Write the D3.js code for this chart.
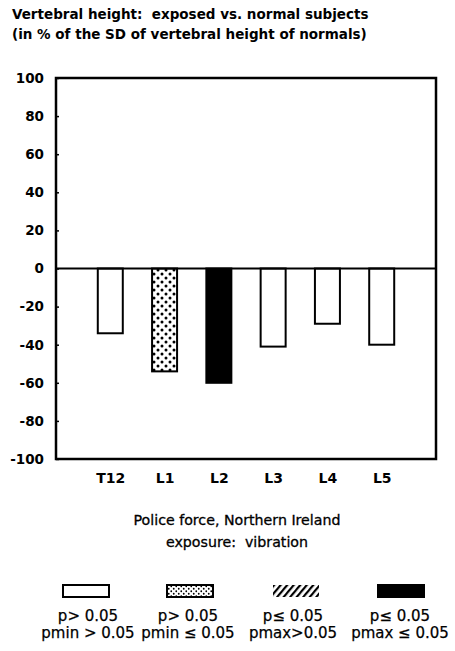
<!DOCTYPE html>
<html>
<head>
<meta charset="utf-8">
<script src="https://cdn.jsdelivr.net/npm/d3@7"></script>
<style>
  html, body { margin: 0; padding: 0; background: #fff; }
  svg { display: block; }
  text { font-family: "DejaVu Sans", Verdana, sans-serif; fill: #000; white-space: pre; }
</style>
</head>
<body>
<svg id="chart" width="455" height="651"></svg>
<script>
// Vertebral height of exposed subjects, in % of the SD of normals
const vertebrae = ["T12", "L1", "L2", "L3", "L4", "L5"];
const heightDiff = [-34, -54, -60, -41, -29, -40];
// significance class of each bar (index into the legend)
const barClass = [0, 1, 3, 0, 0, 0];
const yTicks = [100, 80, 60, 40, 20, 0, -20, -40, -60, -80, -100];

const titleLines = [
  "Vertebral height:  exposed vs. normal subjects",
  "(in % of the SD of vertebral height of normals)"
];
const captionLines = ["Police force, Northern Ireland", "exposure:  vibration"];
const legendLine1 = ["p> 0.05", "p> 0.05", "p\u2264 0.05", "p\u2264 0.05"];
const legendLine2 = ["pmin > 0.05", "pmin \u2264 0.05", "pmax>0.05", "pmax \u2264 0.05"];

const svg = d3.select("#chart");
const plot = { left: 56, right: 436, top: 78, bottom: 459 };

const defs = svg.append("defs");
// stippled fill: staggered dots
function dotPattern(id, size, r) {
  const p = defs.append("pattern").attr("id", id).attr("patternUnits", "userSpaceOnUse")
    .attr("width", size).attr("height", size);
  p.append("rect").attr("width", size).attr("height", size).attr("fill", "#fff");
  p.append("circle").attr("cx", size * 0.25).attr("cy", size * 0.25).attr("r", r).attr("fill", "#000");
  p.append("circle").attr("cx", size * 0.75).attr("cy", size * 0.75).attr("r", r).attr("fill", "#000");
}
dotPattern("dots", 8, 1.5);
dotPattern("dotsSmall", 5, 0.9);
// diagonal hatching
const hatch = defs.append("pattern").attr("id", "hatch").attr("patternUnits", "userSpaceOnUse")
  .attr("width", 5).attr("height", 5).attr("patternTransform", "rotate(40)");
hatch.append("rect").attr("width", 5).attr("height", 5).attr("fill", "#fff");
hatch.append("rect").attr("width", 2.2).attr("height", 5).attr("fill", "#000");

const fills = ["#fff", "url(#dots)", "url(#hatch)", "#000"];
const legendFills = ["#fff", "url(#dotsSmall)", "url(#hatch)", "#000"];

// title
svg.append("g").selectAll("text").data(titleLines).join("text")
  .attr("x", 12).attr("y", (d, i) => 19 + i * 20)
  .attr("font-size", 13.5).attr("font-weight", "bold")
  .text(d => d);

const x = d3.scalePoint().domain(vertebrae).range([plot.left, plot.right]).padding(1);
const y = d3.scaleLinear().domain([-100, 100]).range([plot.bottom, plot.top]);
const barW = 25;

// y axis
const yAxis = svg.append("g").attr("transform", `translate(${plot.left},0)`)
  .call(d3.axisLeft(y).tickValues(yTicks).tickFormat(d => String(d))
    .tickSizeInner(-3).tickSizeOuter(0).tickPadding(12));
yAxis.select(".domain").remove();
yAxis.selectAll(".tick line").attr("stroke", "#000").attr("stroke-width", 1.5);
yAxis.selectAll(".tick text").attr("font-size", 13.5).attr("font-weight", "bold")
  .attr("font-family", "'DejaVu Sans', Verdana, sans-serif").attr("fill", "#000");

// bars
svg.append("g").selectAll("rect").data(vertebrae).join("rect")
  .attr("x", d => x(d) - barW / 2)
  .attr("y", (d, i) => y(Math.max(0, heightDiff[i])))
  .attr("width", barW)
  .attr("height", (d, i) => Math.abs(y(heightDiff[i]) - y(0)))
  .attr("fill", (d, i) => fills[barClass[i]])
  .attr("stroke", "#000").attr("stroke-width", 2);

// zero line
svg.append("line").attr("x1", plot.left).attr("x2", plot.right)
  .attr("y1", y(0)).attr("y2", y(0)).attr("stroke", "#000").attr("stroke-width", 2);

// frame
svg.append("rect").attr("x", plot.left).attr("y", plot.top)
  .attr("width", plot.right - plot.left).attr("height", plot.bottom - plot.top)
  .attr("fill", "none").attr("stroke", "#000").attr("stroke-width", 2.5);

// x axis labels
const xAxis = svg.append("g").attr("transform", `translate(0,${plot.bottom})`)
  .call(d3.axisBottom(x).tickSize(0).tickPadding(14));
xAxis.select(".domain").remove();
xAxis.selectAll(".tick text").attr("font-size", 14).attr("font-weight", "bold")
  .attr("font-family", "'DejaVu Sans', Verdana, sans-serif").attr("fill", "#000");

// caption
svg.append("g").selectAll("text").data(captionLines).join("text")
  .attr("x", 237).attr("y", (d, i) => 525 + i * 22)
  .attr("text-anchor", "middle").attr("font-size", 14.2)
  .attr("stroke", "#000").attr("stroke-width", 0.3)
  .text(d => d);

// legend
const legendX = [86, 190, 296, 401];
const textX = [88, 188, 293, 400];
const lg = svg.append("g").selectAll("g").data(legendX).join("g");
lg.append("rect").attr("x", d => d - 23).attr("y", 585).attr("width", 46).attr("height", 12)
  .attr("fill", (d, i) => legendFills[i])
  .attr("stroke", (d, i) => i === 2 ? "none" : "#000").attr("stroke-width", 2);
lg.append("text").attr("x", (d, i) => textX[i]).attr("y", 621).attr("text-anchor", "middle")
  .attr("font-size", 15).attr("stroke", "#000").attr("stroke-width", 0.25)
  .text((d, i) => legendLine1[i]);
lg.append("text").attr("x", (d, i) => textX[i]).attr("y", 638).attr("text-anchor", "middle")
  .attr("font-size", 15).attr("stroke", "#000").attr("stroke-width", 0.25)
  .text((d, i) => legendLine2[i]);
</script>
</body>
</html>
